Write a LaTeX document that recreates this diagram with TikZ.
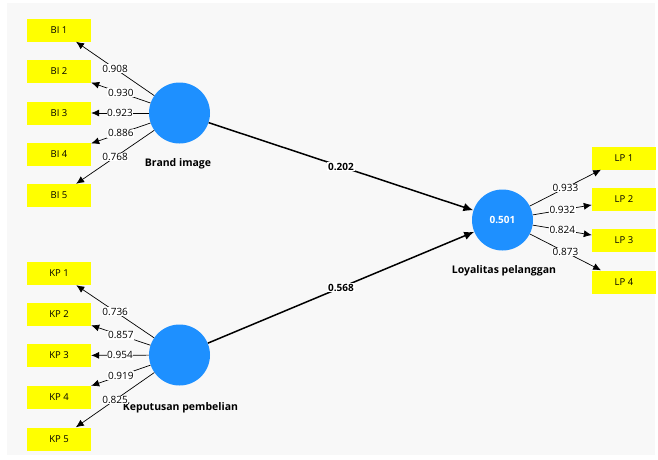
\documentclass[tikz,border=0pt]{standalone}
\usepackage{fontspec}
\setmainfont{Open Sans}
\usetikzlibrary{arrows.meta}
\definecolor{bgc}{RGB}{248,248,248}
\definecolor{indyel}{RGB}{255,255,0}
\definecolor{lvblue}{RGB}{30,144,255}
\tikzset{
  ind/.style={fill=indyel, minimum width=64pt, minimum height=23pt, inner sep=0pt, font=\fontsize{9.5}{10}\selectfont},
  lv/.style={circle, fill=lvblue, minimum size=61pt, inner sep=0pt},
  load/.style={-{Latex[length=8pt,width=7pt]}, line width=0.7pt},
  loadlbl/.style={fill=white, inner sep=0.6pt, font=\fontsize{10}{11}\selectfont},
  pth/.style={-{Latex[length=10pt,width=8.5pt]}, line width=1.5pt},
  pthlbl/.style={fill=white, inner sep=1pt, font=\bfseries\fontsize{10}{11}\selectfont},
  lvname/.style={font=\bfseries\fontsize{10.5}{11}\selectfont}
}
\begin{document}
\begin{tikzpicture}[x=1pt,y=-1pt]
\useasboundingbox (0,0) rectangle (658,459);
\fill[bgc] (7,3) rectangle (655,455);
% latent variables
\node[lv] (BI) at (179.5,113) {};
\node[lv] (KP) at (179.5,355) {};
\node[lv] (LP) at (502.5,220) {\color{white}\bfseries\fontsize{10}{11}\selectfont 0.501};
\node[lvname] (BIn) at (178,164) {Brand image};
\node[lvname] (KPn) at (180.5,408) {Keputusan pembelian};
\node[lvname] (LPn) at (504,271) {Loyalitas pelanggan};
% indicators
\node[ind] (bi1) at (59,30) {BI 1};
\node[ind] (bi2) at (59,71.5) {BI 2};
\node[ind] (bi3) at (59,113) {BI 3};
\node[ind] (bi4) at (59,154.5) {BI 4};
\node[ind] (bi5) at (59,195.5) {BI 5};
\node[ind] (kp1) at (59,273.5) {KP 1};
\node[ind] (kp2) at (59,314.5) {KP 2};
\node[ind] (kp3) at (59,355.5) {KP 3};
\node[ind] (kp4) at (59,397) {KP 4};
\node[ind] (kp5) at (59,439) {KP 5};
\node[ind] (lp1) at (624,158) {LP 1};
\node[ind] (lp2) at (624,199.5) {LP 2};
\node[ind] (lp3) at (624,240.5) {LP 3};
\node[ind] (lp4) at (624,282) {LP 4};
% loadings
\draw[load] (BI) -- node[loadlbl] {0.908} (bi1);
\draw[load] (BI) -- node[loadlbl] {0.930} (bi2);
\draw[load] (BI) -- node[loadlbl] {0.923} (bi3);
\draw[load] (BI) -- node[loadlbl] {0.886} (bi4);
\draw[load] (BI) -- node[loadlbl] {0.768} (bi5);
\draw[load] (KP) -- node[loadlbl] {0.736} (kp1);
\draw[load] (KP) -- node[loadlbl] {0.857} (kp2);
\draw[load] (KP) -- node[loadlbl] {0.954} (kp3);
\draw[load] (KP) -- node[loadlbl] {0.919} (kp4);
\draw[load] (KP) -- node[loadlbl] {0.825} (kp5);
\draw[load] (LP) -- node[loadlbl] {0.933} (lp1);
\draw[load] (LP) -- node[loadlbl] {0.932} (lp2);
\draw[load] (LP) -- node[loadlbl] {0.824} (lp3);
\draw[load] (LP) -- node[loadlbl] {0.873} (lp4);
% paths
\draw[pth] (BI) -- node[pthlbl] {0.202} (LP);
\draw[pth] (KP) -- node[pthlbl] {0.568} (LP);
\end{tikzpicture}
\end{document}
